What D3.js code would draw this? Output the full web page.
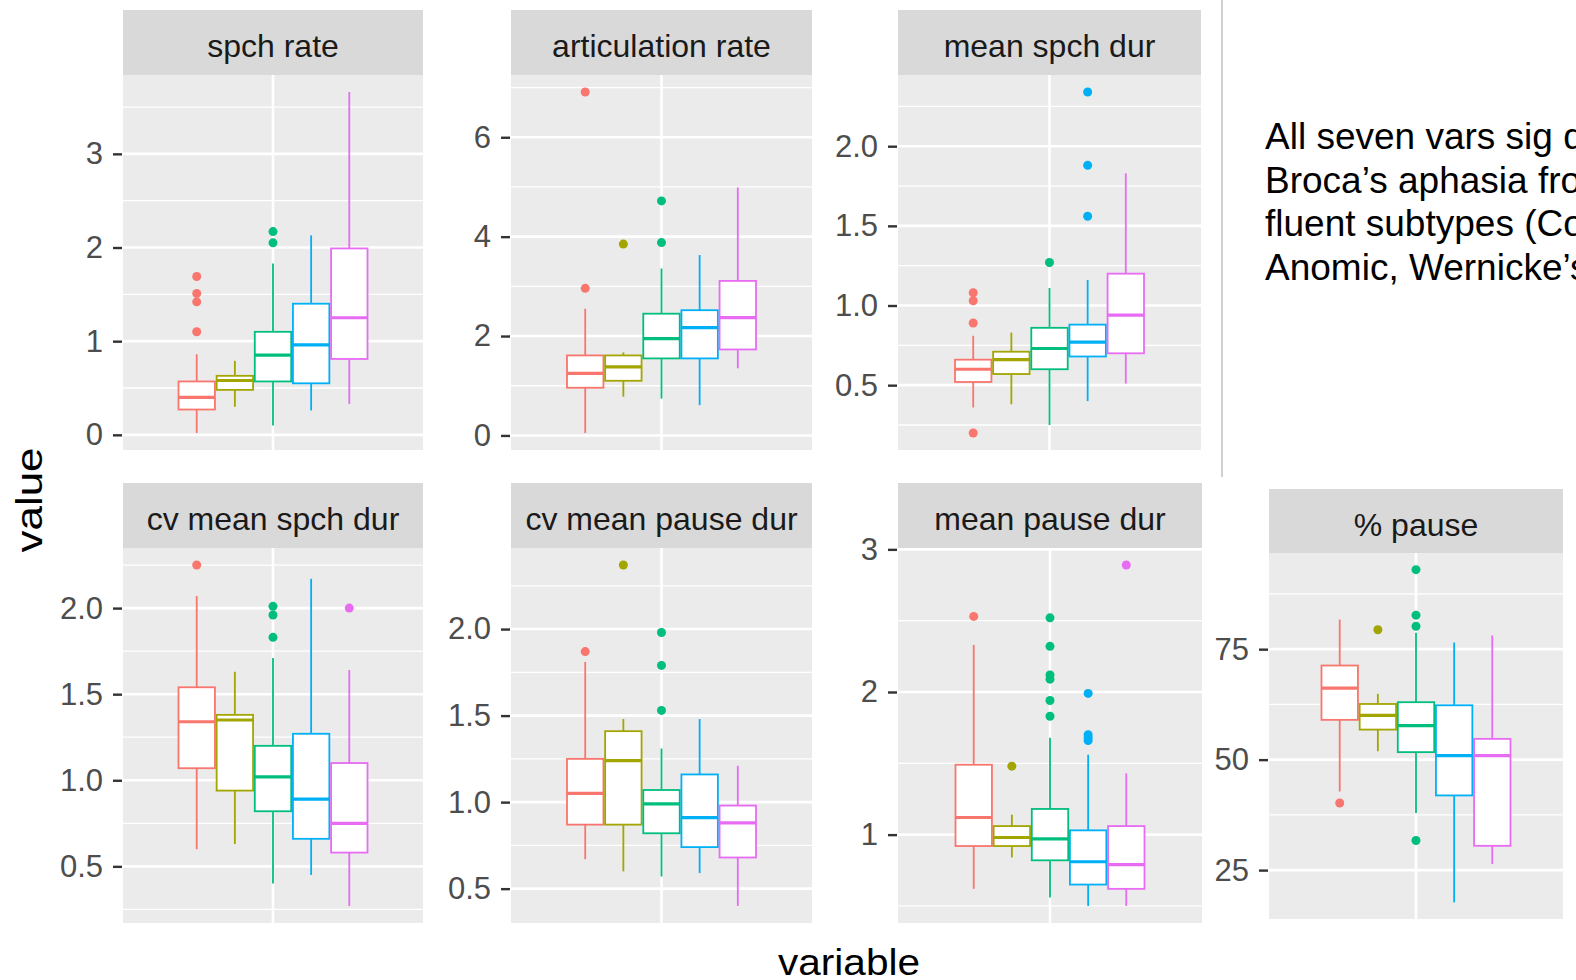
<!DOCTYPE html>
<html>
<head>
<meta charset="utf-8">
<script src="https://cdn.jsdelivr.net/npm/d3@7"></script>
<style>
  body { margin: 0; background: #fff; }
  svg { display: block; font-family: "Liberation Sans", Arial, sans-serif; }
</style>
</head>
<body>
<svg width="1576" height="980"></svg>
<script>
// groups (no legend shown) and their ggplot hue colours
var groups = ['group 1', 'group 2', 'group 3', 'group 4', 'group 5'];
var groupColors = ['#F8766D', '#A3A500', '#00BF7D', '#00B0F6', '#E76BF3'];

var variables = ['spch rate', 'articulation rate', 'mean spch dur',
  'cv mean spch dur', 'cv mean pause dur', 'mean pause dur', '% pause'];

// per group: [lower whisker, q1, median, q3, upper whisker]
var spchRate = [[0.02, 0.27, 0.40, 0.57, 0.86], [0.30, 0.48, 0.58, 0.63, 0.79],
  [0.10, 0.57, 0.85, 1.10, 1.83], [0.26, 0.55, 0.96, 1.40, 2.13], [0.33, 0.81, 1.25, 1.99, 3.66]];
var spchRateOut = [[1.69, 1.51, 1.42, 1.10], [], [2.17, 2.05], [], []];
var spchRateTicks = [0, 1, 2, 3];

var artRate = [[0.05, 0.96, 1.25, 1.61, 2.55], [0.78, 1.10, 1.38, 1.61, 1.67],
  [0.74, 1.55, 1.95, 2.45, 3.36], [0.61, 1.55, 2.17, 2.52, 3.63], [1.35, 1.73, 2.37, 3.11, 4.99]];
var artRateOut = [[6.91, 2.96], [3.85], [4.72, 3.88], [], []];
var artRateTicks = [0, 2, 4, 6];

var meanSpchDur = [[0.36, 0.52, 0.60, 0.66, 0.81], [0.38, 0.57, 0.66, 0.71, 0.83],
  [0.25, 0.60, 0.73, 0.86, 1.11], [0.40, 0.68, 0.77, 0.88, 1.16], [0.51, 0.70, 0.94, 1.20, 1.83]];
var meanSpchDurOut = [[1.08, 1.03, 0.89, 0.20], [], [1.27], [2.34, 1.88, 1.56], []];
var meanSpchDurTicks = [0.5, 1.0, 1.5, 2.0];

var cvSpchDur = [[0.60, 1.07, 1.34, 1.54, 2.07], [0.63, 0.94, 1.35, 1.38, 1.63],
  [0.40, 0.82, 1.02, 1.20, 1.71], [0.45, 0.66, 0.89, 1.27, 2.17], [0.27, 0.58, 0.75, 1.10, 1.64]];
var cvSpchDurOut = [[2.25], [], [2.01, 1.96, 1.83], [], [2.00]];
var cvSpchDurTicks = [0.5, 1.0, 1.5, 2.0];

var cvPauseDur = [[0.67, 0.87, 1.05, 1.25, 1.81], [0.60, 0.87, 1.24, 1.41, 1.48],
  [0.57, 0.82, 0.99, 1.07, 1.31], [0.59, 0.74, 0.91, 1.16, 1.48], [0.40, 0.68, 0.88, 0.98, 1.21]];
var cvPauseDurOut = [[1.87], [2.37], [1.98, 1.79, 1.53], [], []];
var cvPauseDurTicks = [0.5, 1.0, 1.5, 2.0];

var meanPauseDur = [[0.62, 0.92, 1.12, 1.49, 2.33], [0.84, 0.92, 0.98, 1.06, 1.14],
  [0.56, 0.82, 0.97, 1.18, 1.68], [0.50, 0.65, 0.81, 1.03, 1.56], [0.50, 0.62, 0.79, 1.06, 1.43]];
var meanPauseDurOut = [[2.53], [1.48], [2.52, 2.32, 2.12, 2.09, 1.94, 1.83], [1.99, 1.70, 1.68, 1.66], [2.89]];
var meanPauseDurTicks = [1, 2, 3];

var pctPause = [[42.8, 59.0, 66.2, 71.3, 81.7], [51.9, 56.8, 60.0, 62.6, 64.9],
  [37.9, 51.7, 57.7, 63.0, 78.7], [17.7, 41.9, 50.9, 62.3, 76.5], [26.4, 30.5, 50.9, 54.7, 78.1]];
var pctPauseOut = [[40.2], [79.4], [93.0, 82.7, 80.2, 31.7], [], []];
var pctPauseTicks = [25, 50, 75];

var noteLines = ['All seven vars sig distinguish', 'Broca\u2019s aphasia from other',
  'fluent subtypes (Conduction,', 'Anomic, Wernicke\u2019s)'];

// where each facet sits on the page (the source is a pasted collage)
var panelLayout = [
  {x: 123, y: 75, w: 300, h: 375, strip: 65},
  {x: 511, y: 75, w: 301, h: 375, strip: 65},
  {x: 898, y: 75, w: 303, h: 375, strip: 65},
  {x: 123, y: 548, w: 300, h: 375, strip: 65},
  {x: 511, y: 548, w: 301, h: 375, strip: 65},
  {x: 898, y: 548, w: 304, h: 375, strip: 65},
  {x: 1269, y: 553, w: 294, h: 366, strip: 64}
];

var boxData = [spchRate, artRate, meanSpchDur, cvSpchDur, cvPauseDur, meanPauseDur, pctPause];
var outData = [spchRateOut, artRateOut, meanSpchDurOut, cvSpchDurOut, cvPauseDurOut, meanPauseDurOut, pctPauseOut];
var tickData = [spchRateTicks, artRateTicks, meanSpchDurTicks, cvSpchDurTicks, cvPauseDurTicks, meanPauseDurTicks, pctPauseTicks];

var svg = d3.select('svg');

variables.forEach(function(name, k) {
  drawPanel(name, panelLayout[k], boxData[k], outData[k], tickData[k]);
});

function drawPanel(name, p, boxes, outs, ticks) {
  var g = svg.append('g');

  // ggplot style: 5% expansion of the data range
  var all = [];
  boxes.forEach(function(b) { all = all.concat(b); });
  outs.forEach(function(o) { all = all.concat(o); });
  var lo = d3.min(all), hi = d3.max(all);
  var pad = (hi - lo) * 0.05;

  var y = d3.scaleLinear()
    .domain([lo - pad, hi + pad])
    .range([p.y + p.h, p.y]);

  var cx = p.x + p.w / 2;
  var x = d3.scaleBand()
    .domain(groups)
    .range([cx - 94.5, cx + 94.5])
    .paddingInner(0.045);

  // strip
  g.append('rect')
    .attr('x', p.x).attr('y', p.y - p.strip)
    .attr('width', p.w).attr('height', p.strip)
    .attr('fill', '#D9D9D9');
  g.append('text')
    .attr('x', cx).attr('y', p.y - p.strip + 46.5)
    .attr('text-anchor', 'middle')
    .style('font-size', '32px')
    .attr('fill', '#1A1A1A')
    .text(name);

  // panel background
  g.append('rect')
    .attr('x', p.x).attr('y', p.y)
    .attr('width', p.w).attr('height', p.h)
    .attr('fill', '#EBEBEB');

  // minor grid lines half way between the majors
  var step = ticks[1] - ticks[0];
  var minors = [ticks[0] - step / 2].concat(ticks.map(function(t) { return t + step / 2; }))
    .filter(function(v) { return v > y.domain()[0] && v < y.domain()[1]; });

  g.selectAll('.minor')
    .data(minors)
    .enter().append('line')
    .attr('x1', p.x).attr('x2', p.x + p.w)
    .attr('y1', function(d) { return y(d); })
    .attr('y2', function(d) { return y(d); })
    .attr('stroke', '#fff').attr('stroke-width', 1.3);

  g.selectAll('.major')
    .data(ticks)
    .enter().append('line')
    .attr('x1', p.x).attr('x2', p.x + p.w)
    .attr('y1', function(d) { return y(d); })
    .attr('y2', function(d) { return y(d); })
    .attr('stroke', '#fff').attr('stroke-width', 2.6);

  g.append('line')
    .attr('x1', cx).attr('x2', cx)
    .attr('y1', p.y).attr('y2', p.y + p.h)
    .attr('stroke', '#fff').attr('stroke-width', 2.6);

  // y axis
  var fmt = ticks.some(function(t) { return t % 1 !== 0; }) ? d3.format('.1f') : d3.format('d');
  var axis = d3.axisLeft(y).tickValues(ticks).tickSize(9).tickPadding(10).tickFormat(fmt);
  var ag = g.append('g')
    .attr('transform', 'translate(' + (p.x - 1) + ',0)')
    .call(axis);
  ag.select('.domain').remove();
  ag.selectAll('.tick line').attr('stroke', '#333333').attr('stroke-width', 2.4);
  ag.selectAll('.tick text')
    .attr('fill', '#4D4D4D')
    .style('font-size', '31px')
    .style('font-family', '"Liberation Sans", Arial, sans-serif');

  // boxes
  boxes.forEach(function(b, i) {
    var col = groupColors[i];
    var bx = x(groups[i]);
    var mid = bx + x.bandwidth() / 2;
    var bg = g.append('g');

    bg.append('line')
      .attr('x1', mid).attr('x2', mid)
      .attr('y1', y(b[0])).attr('y2', y(b[1]))
      .attr('stroke', col).attr('stroke-width', 1.8);
    bg.append('line')
      .attr('x1', mid).attr('x2', mid)
      .attr('y1', y(b[3])).attr('y2', y(b[4]))
      .attr('stroke', col).attr('stroke-width', 1.8);
    bg.append('rect')
      .attr('x', bx).attr('y', y(b[3]))
      .attr('width', x.bandwidth())
      .attr('height', y(b[1]) - y(b[3]))
      .attr('fill', '#fff')
      .attr('stroke', col).attr('stroke-width', 1.8);
    bg.append('line')
      .attr('x1', bx).attr('x2', bx + x.bandwidth())
      .attr('y1', y(b[2])).attr('y2', y(b[2]))
      .attr('stroke', col).attr('stroke-width', 3.2);

    bg.selectAll('circle')
      .data(outs[i])
      .enter().append('circle')
      .attr('cx', mid)
      .attr('cy', function(d) { return y(d); })
      .attr('r', 4.5)
      .attr('fill', col);
  });
}

// axis titles
svg.append('text')
  .attr('transform', 'translate(42,500) rotate(-90)')
  .attr('text-anchor', 'middle')
  .style('font-size', '36px')
  .attr('textLength', 105)
  .attr('lengthAdjust', 'spacingAndGlyphs')
  .attr('fill', '#000')
  .text('value');

svg.append('text')
  .attr('x', 849).attr('y', 975)
  .attr('text-anchor', 'middle')
  .style('font-size', '36px')
  .attr('textLength', 142)
  .attr('lengthAdjust', 'spacingAndGlyphs')
  .attr('fill', '#000')
  .text('variable');

// divider and note on the right
svg.append('line')
  .attr('x1', 1222).attr('x2', 1222)
  .attr('y1', 0).attr('y2', 477)
  .attr('stroke', '#C0C0C0').attr('stroke-width', 1.5);

svg.append('g').selectAll('text')
  .data(noteLines)
  .enter().append('text')
  .attr('x', 1265)
  .attr('y', function(d, i) { return 149 + i * 43.6; })
  .style('font-size', '37px')
  .attr('fill', '#000')
  .text(function(d) { return d; });
</script>
</body>
</html>
